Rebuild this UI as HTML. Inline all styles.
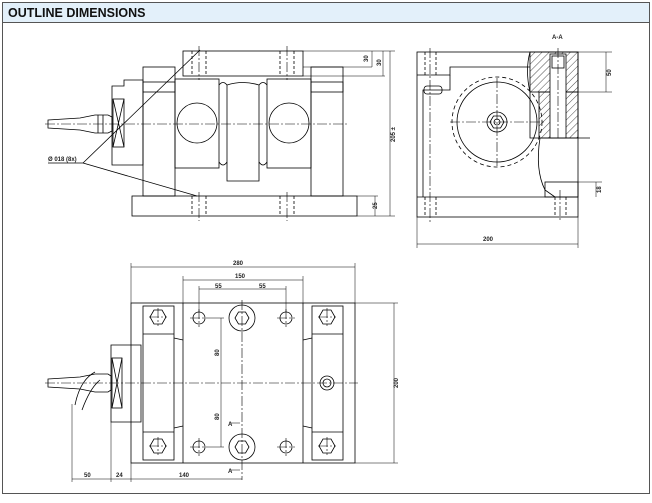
<!DOCTYPE html>
<html><head><style>
body{margin:0;background:#fff;width:652px;height:498px;overflow:hidden;font-family:"Liberation Sans",sans-serif}
svg text{font-family:"Liberation Sans",sans-serif;font-weight:bold;font-size:6px;fill:#222}
</style></head><body>
<svg width="652" height="498" viewBox="0 0 652 498" xmlns="http://www.w3.org/2000/svg">
<defs>
<pattern id="h" width="5" height="5" patternUnits="userSpaceOnUse" patternTransform="rotate(45)"><line x1="0" y1="0" x2="0" y2="5" stroke="#000" stroke-width="0.7"/></pattern>
</defs>
<rect x="2.5" y="2.5" width="647" height="491" fill="#fff" stroke="#555" stroke-width="1"/>
<rect x="3" y="3" width="646" height="19" fill="#e3f0fa"/>
<line x1="3" y1="22.5" x2="649" y2="22.5" stroke="#555"/>
<text x="8" y="17" style="font-size:12.5px;fill:#111">OUTLINE DIMENSIONS</text>

<g fill="none" stroke="#000" stroke-width="0.8">
<!-- FRONT VIEW -->
<rect x="183" y="51" width="120" height="25"/>
<rect x="143" y="67" width="32" height="129"/>
<rect x="311" y="67" width="32" height="129"/>
<rect x="143" y="82" width="32" height="10"/>
<rect x="311" y="82" width="32" height="10"/>
<rect x="175" y="79" width="44" height="89"/>
<rect x="267" y="79" width="44" height="89"/>
<circle cx="197" cy="123" r="20"/>
<circle cx="289" cy="123" r="20"/>
<path d="M227 85 Q243 80 259 85 L259 181 L227 181 Z"/>
<path d="M219 85 Q223 80 227 85 M259 85 Q263 80 267 85 M219 162 Q223 168 227 162 M259 162 Q263 168 267 162"/>
<rect x="132" y="196" width="225" height="20"/>
<path d="M112 86 L124 86 L124 80 L143 80 L143 165 L112 165 Z"/>
<rect x="113" y="99" width="11" height="48"/>
<path d="M113 99 L124 147 M124 99 L113 147"/>
<path d="M48 120 L80 118 L95 115 L108 115 L112 117 L112 131 L108 133 L95 133 L80 130 L48 128 Z"/>
<path d="M103 115 L103 133 M98 115 L98 133"/>
<path d="M83 163 L200 50 M83 163 L197 196 M48 163 L83 163"/>
<g stroke-dasharray="3,2">
<line x1="192" y1="51" x2="192" y2="76"/><line x1="206" y1="51" x2="206" y2="76"/>
<line x1="280" y1="51" x2="280" y2="76"/><line x1="294" y1="51" x2="294" y2="76"/>
<line x1="192" y1="196" x2="192" y2="216"/><line x1="206" y1="196" x2="206" y2="216"/>
<line x1="280" y1="196" x2="280" y2="216"/><line x1="294" y1="196" x2="294" y2="216"/>
</g>
<g stroke-dasharray="10,2,2,2" stroke-width="0.6">
<line x1="45" y1="124" x2="348" y2="124"/>
<line x1="199" y1="46" x2="199" y2="80"/><line x1="287" y1="46" x2="287" y2="80"/>
<line x1="199" y1="192" x2="199" y2="221"/><line x1="287" y1="192" x2="287" y2="221"/>
</g>
<!-- front dims -->
<g stroke-width="0.5">
<line x1="303" y1="51" x2="395" y2="51"/><line x1="303" y1="67" x2="372" y2="67"/>
<line x1="357" y1="216" x2="395" y2="216"/>
<line x1="390" y1="51" x2="390" y2="216"/>
<line x1="372" y1="51" x2="372" y2="67"/><line x1="383" y1="51" x2="383" y2="76"/><line x1="303" y1="76" x2="385" y2="76"/>
<line x1="375" y1="196" x2="375" y2="216"/><line x1="357" y1="196" x2="378" y2="196"/>
</g>

<!-- SIDE VIEW -->
<rect x="417" y="52" width="161" height="165"/>
<line x1="417" y1="197" x2="578" y2="197"/>
<path d="M417 75 L450 75 L450 67 L530 67"/>
<path d="M423 197 L423 90 L450 90 L450 75"/>
<rect x="424" y="86" width="18" height="8" rx="3"/>
<circle cx="497" cy="122" r="40"/>
<circle cx="497" cy="122" r="45" stroke-dasharray="4,3"/>
<polygon points="490,122 493.5,116 500.5,116 504,122 500.5,128 493.5,128"/>
<circle cx="497" cy="122" r="3"/>
<circle cx="497" cy="122" r="10"/>
<rect x="530" y="52" width="48" height="40" fill="url(#h)"/>
<rect x="539" y="92" width="39" height="46" fill="url(#h)"/>
<rect x="550" y="54" width="16" height="84" fill="#fff"/>
<rect x="552" y="56" width="12" height="12"/>
<path d="M530 52 Q525 70 530 92 L530 138 L590 138"/>
<path d="M540 138 Q535 170 545 190 L555 197"/>
<rect x="545" y="182" width="33" height="15"/>
<g stroke-dasharray="3,2"><line x1="425" y1="52" x2="425" y2="75"/><line x1="436" y1="52" x2="436" y2="75"/>
<line x1="425" y1="197" x2="425" y2="217"/><line x1="436" y1="197" x2="436" y2="217"/>
<line x1="555" y1="197" x2="555" y2="217"/><line x1="566" y1="197" x2="566" y2="217"/></g>
<g stroke-dasharray="10,2,2,2" stroke-width="0.6">
<line x1="450" y1="122" x2="545" y2="122"/><line x1="497" y1="78" x2="497" y2="166"/>
<line x1="558" y1="48" x2="558" y2="140"/><line x1="430" y1="48" x2="430" y2="222"/><line x1="560" y1="190" x2="560" y2="222"/>
</g>
<g stroke-width="0.5">
<line x1="578" y1="52" x2="612" y2="52"/><line x1="578" y1="92" x2="612" y2="92"/><line x1="606" y1="52" x2="606" y2="92"/>
<line x1="578" y1="182" x2="602" y2="182"/><line x1="596" y1="182" x2="596" y2="197"/>
<line x1="417" y1="217" x2="417" y2="248"/><line x1="578" y1="217" x2="578" y2="248"/><line x1="417" y1="244" x2="578" y2="244"/>
</g>

<!-- PLAN VIEW -->
<rect x="131" y="303" width="224" height="160"/>
<line x1="183" y1="303" x2="183" y2="463"/><line x1="303" y1="303" x2="303" y2="463"/>
<rect x="143" y="306" width="31" height="154"/>
<rect x="312" y="306" width="31" height="154"/>
<line x1="143" y1="334" x2="174" y2="334"/><line x1="143" y1="432" x2="174" y2="432"/>
<line x1="312" y1="334" x2="343" y2="334"/><line x1="312" y1="432" x2="343" y2="432"/>
<path d="M174 338 L183 340 M174 428 L183 426 M312 338 L303 340 M312 428 L303 426"/>
<g>
<polygon points="150,317 154,310 162,310 166,317 162,324 154,324"/>
<polygon points="150,446 154,439 162,439 166,446 162,453 154,453"/>
<polygon points="319,317 323,310 331,310 335,317 331,324 323,324"/>
<polygon points="319,446 323,439 331,439 335,446 331,453 323,453"/>
<circle cx="199" cy="318" r="6"/><circle cx="286" cy="318" r="6"/>
<circle cx="199" cy="447" r="6"/><circle cx="286" cy="447" r="6"/>
<circle cx="242" cy="318" r="13"/><circle cx="242" cy="447" r="13"/>
<polygon points="235,318 238.5,312 245.5,312 249,318 245.5,324 238.5,324"/>
<polygon points="235,447 238.5,441 245.5,441 249,447 245.5,453 238.5,453"/>
<circle cx="327" cy="383" r="7"/><circle cx="327" cy="383" r="4"/>
</g>
<path d="M111 345 L111 422 L141 422 L141 345 Z"/>
<rect x="112" y="358" width="10" height="50"/>
<path d="M112 358 L122 408 M122 358 L112 408"/>
<path d="M48 379 L80 377 L95 374 L108 374 L111 376 L111 390 L108 392 L95 392 L80 389 L48 387 Z"/>
<path d="M75 405 Q80 380 95 372 M82 410 Q90 388 100 380"/>
<g stroke-dasharray="10,2,2,2" stroke-width="0.6">
<line x1="45" y1="383" x2="358" y2="383"/><line x1="242" y1="300" x2="242" y2="480"/>
<line x1="158" y1="308" x2="158" y2="326"/><line x1="149" y1="317" x2="167" y2="317"/>
<line x1="158" y1="437" x2="158" y2="455"/><line x1="149" y1="446" x2="167" y2="446"/>
<line x1="327" y1="308" x2="327" y2="326"/><line x1="318" y1="317" x2="336" y2="317"/>
<line x1="327" y1="437" x2="327" y2="455"/><line x1="318" y1="446" x2="336" y2="446"/>
<line x1="190" y1="318" x2="208" y2="318"/><line x1="199" y1="309" x2="199" y2="327"/>
<line x1="277" y1="318" x2="295" y2="318"/><line x1="286" y1="309" x2="286" y2="327"/>
<line x1="190" y1="447" x2="208" y2="447"/><line x1="199" y1="438" x2="199" y2="456"/>
<line x1="277" y1="447" x2="295" y2="447"/><line x1="286" y1="438" x2="286" y2="456"/>
</g>
<g stroke-width="0.5">
<line x1="131" y1="263" x2="131" y2="303"/><line x1="355" y1="263" x2="355" y2="303"/><line x1="131" y1="267" x2="355" y2="267"/>
<line x1="183" y1="276" x2="183" y2="303"/><line x1="303" y1="276" x2="303" y2="303"/><line x1="183" y1="280" x2="303" y2="280"/>
<line x1="199" y1="286" x2="199" y2="312"/><line x1="286" y1="286" x2="286" y2="312"/><line x1="199" y1="289" x2="286" y2="289"/>
<line x1="208" y1="318" x2="224" y2="318"/><line x1="208" y1="447" x2="224" y2="447"/><line x1="221" y1="318" x2="221" y2="447"/>
<line x1="355" y1="303" x2="398" y2="303"/><line x1="355" y1="463" x2="398" y2="463"/><line x1="394" y1="303" x2="394" y2="463"/>
<line x1="72" y1="404" x2="72" y2="482"/><line x1="111" y1="422" x2="111" y2="482"/><line x1="131" y1="463" x2="131" y2="482"/>
<line x1="72" y1="479" x2="242" y2="479"/>
<line x1="230" y1="423" x2="240" y2="423"/><line x1="230" y1="470" x2="240" y2="470"/>
</g>
</g>
<text x="48" y="161">Ø 018 (8x)</text>
<text x="552" y="39">A-A</text>
<text x="483" y="241">200</text>
<text x="233" y="265">280</text>
<text x="235" y="278">150</text>
<text x="215" y="288">55</text>
<text x="259" y="288">55</text>
<text x="84" y="477">50</text>
<text x="116" y="477">24</text>
<text x="179" y="477">140</text>
<text x="228" y="426">A</text>
<text x="228" y="473">A</text>
<text transform="translate(368,62) rotate(-90)">30</text>
<text transform="translate(381,66) rotate(-90)">30</text>
<text transform="translate(395,142) rotate(-90)">205 ±</text>
<text transform="translate(377,209) rotate(-90)">25</text>
<text transform="translate(611,76) rotate(-90)">50</text>
<text transform="translate(601,193) rotate(-90)">18</text>
<text transform="translate(219,356) rotate(-90)">80</text>
<text transform="translate(219,420) rotate(-90)">80</text>
<text transform="translate(398,388) rotate(-90)">200</text>
</svg>
</body></html>
